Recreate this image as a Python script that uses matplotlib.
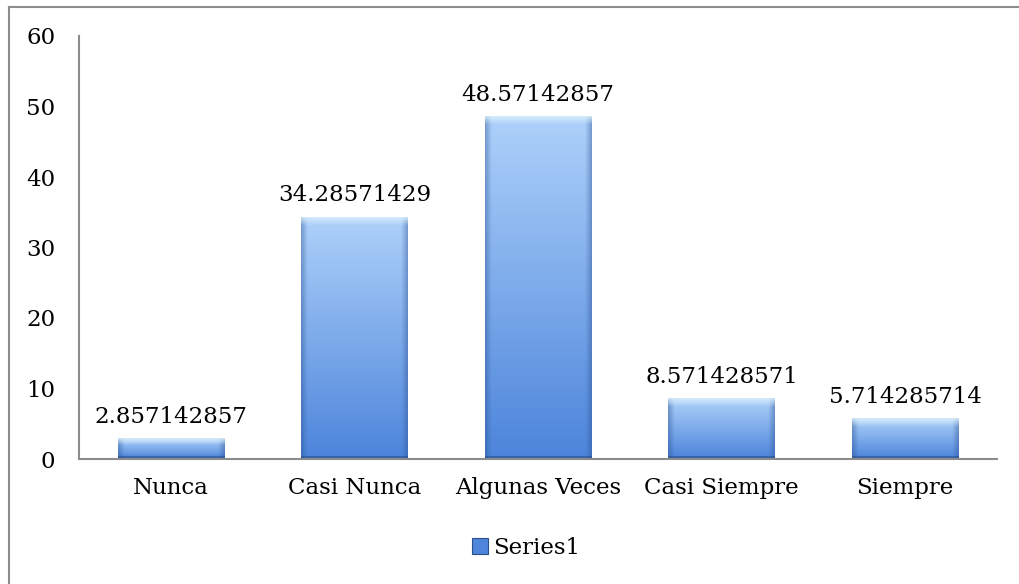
import numpy as np
import matplotlib.pyplot as plt
from matplotlib.lines import Line2D
from matplotlib.patches import Rectangle

# ======================================
# DATA
# ======================================

categories = ['Nunca', 'Casi Nunca', 'Algunas Veces', 'Casi Siempre', 'Siempre']
values = [2.857142857, 34.28571429, 48.57142857, 8.571428571, 5.714285714]
labels = ['2.857142857', '34.28571429', '48.57142857', '8.571428571', '5.714285714']
series_name = 'Series1'

# ======================================
# STYLE
# ======================================

plt.rcParams['font.family'] = ['DejaVu Serif']
FS = 16.5
GREY = '#8c8c8c'
BAR_W = 0.58

top_light = np.array([0.68, 0.82, 0.98])
bottom_dark = np.array([0.30, 0.52, 0.86])
bevel_col = np.array([0.86, 0.94, 0.99])
edge_dark = np.array([0.16, 0.30, 0.55])


def bar_image(h_px, w_px):
    h_px = max(int(h_px), 4)
    t = np.linspace(0, 1, h_px)[:, None, None]          # 0 top, 1 bottom
    img = top_light * (1 - t) + bottom_dark * t
    img = np.repeat(img, w_px, axis=1)
    # side shading
    xs = np.linspace(-1, 1, w_px)
    side = np.clip((np.abs(xs) - 0.88) / 0.12, 0, 1)[None, :, None]
    img = img * (1 - 0.4 * side) + edge_dark * 0.4 * side
    # top bevel
    bev = min(8, h_px // 3)
    for r in range(bev):
        a = 0.8 * (1 - r / bev)
        img[r] = img[r] * (1 - a) + bevel_col * a
    # bottom dark edge
    img[-3:] = img[-3:] * 0.4 + edge_dark * 0.6
    return np.clip(img, 0, 1)


fig = plt.figure(figsize=(10.19, 5.84), dpi=100)
ax = fig.add_axes([79 / 1019, 1 - 459 / 584, (997 - 79) / 1019, (459 - 36) / 584])

x = np.arange(len(categories))
ax.set_xlim(-0.5, len(categories) - 0.5)
ax.set_ylim(0, 60)

px_per_unit = (459 - 36) / 60.0
bar_px = BAR_W * (997 - 79) / len(categories)

for xi, v, lab in zip(x, values, labels):
    img = bar_image(v * px_per_unit, int(bar_px))
    ax.imshow(img, extent=[xi - BAR_W / 2, xi + BAR_W / 2, 0, v],
              aspect='auto', zorder=2, interpolation='bilinear')
    ax.annotate(lab, (xi, v), xytext=(0, 11.5), textcoords='offset points',
                ha='center', va='baseline', fontsize=FS, color='black')

ax.set_xticks(x)
ax.set_xticklabels(categories, fontsize=FS)
ax.set_yticks(np.arange(0, 61, 10))
ax.tick_params(axis='y', labelsize=FS, length=0, pad=17)
ax.tick_params(axis='x', length=0, pad=13)

for s in ['top', 'right']:
    ax.spines[s].set_visible(False)
for s in ['left', 'bottom']:
    ax.spines[s].set_color(GREY)
    ax.spines[s].set_linewidth(1.5)

# legend
leg_handle = Rectangle((0, 0), 1, 1, facecolor='#4d86db', edgecolor='#2a4f8a', linewidth=0.8)
fig.legend([leg_handle], [series_name], loc='center', bbox_to_anchor=(526 / 1019, 1 - 548 / 584),
           frameon=False, fontsize=FS, handlelength=0.7, handleheight=0.7, handletextpad=0.2)

# outer chart border (only left and top are visible in the crop)
fig.add_artist(Line2D([8.5 / 1019, 8.5 / 1019], [0, 1 - 6.5 / 584], color=GREY, linewidth=1.5))
fig.add_artist(Line2D([8.5 / 1019, 1], [1 - 6.5 / 584, 1 - 6.5 / 584], color=GREY, linewidth=1.5))

fig.savefig('out.png', dpi=100)
